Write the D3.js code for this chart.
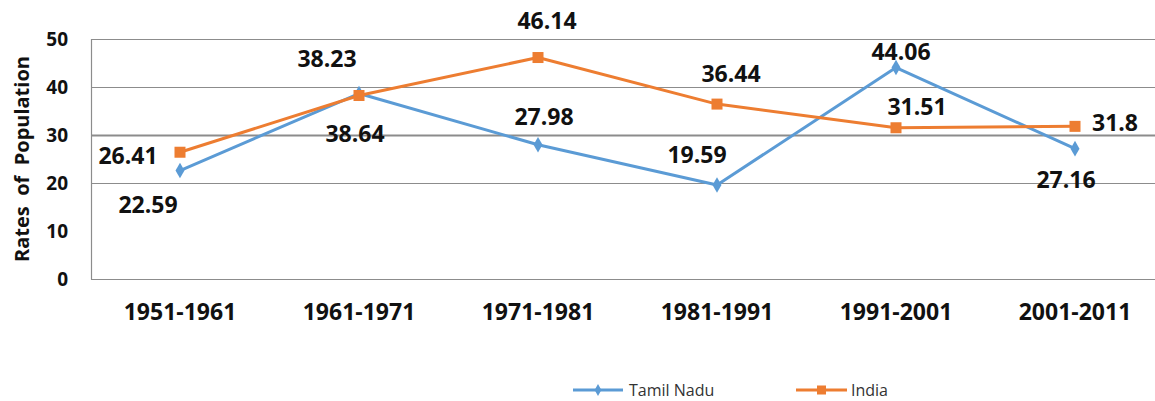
<!DOCTYPE html>
<html>
<head>
<meta charset="utf-8">
<script src="https://cdn.jsdelivr.net/npm/d3@7"></script>
<style>
  html, body { margin: 0; padding: 0; background: #fff; }
  svg { display: block; }
  text { font-family: "Open Sans", "Liberation Sans", sans-serif; }
</style>
</head>
<body>
<svg id="chart" width="1155" height="401"></svg>
<script>
const categories = ["1951-1961", "1961-1971", "1971-1981", "1981-1991", "1991-2001", "2001-2011"];
const tamilNadu = [22.59, 38.64, 27.98, 19.59, 44.06, 27.16];
const india = [26.41, 38.23, 46.14, 36.44, 31.51, 31.8];
const yTicks = [0, 10, 20, 30, 40, 50];
const gridTicks = [20, 30, 40, 50];
const seriesNames = ["Tamil Nadu", "India"];

// label offsets relative to point (dx, dy) - layout only
const tnLabelOffsets = [[-32, 34], [-4, 40], [6, -28], [-20, -30], [5, -16], [-9, 31]];
const inLabelOffsets = [[-52, 3], [-32, -37], [9, -37], [14, -30], [21, -21], [40, -4]];

const svg = d3.select("#chart");
const blue = "#5B9BD5", orange = "#ED7D31";

const x = d3.scaleBand().domain(categories).range([90.5, 1164.5]).padding(0);
const y = d3.scaleLinear().domain([0, 50]).range([279, 39]);
const cx = d => x(d) + x.bandwidth() / 2;

// gridlines
svg.append("g").selectAll("line").data(gridTicks).join("line")
  .attr("x1", 91).attr("x2", 1155)
  .attr("y1", d => Math.round(y(d)) + 0.5).attr("y2", d => Math.round(y(d)) + 0.5)
  .attr("stroke", "#8c8c8c").attr("stroke-width", d => d === 30 ? 2 : 1.2);

// axes lines
svg.append("line").attr("x1", 91.5).attr("x2", 91.5).attr("y1", y(50)).attr("y2", y(0) + 0.5)
  .attr("stroke", "#8c8c8c").attr("stroke-width", 1.2);
svg.append("line").attr("x1", 91).attr("x2", 1155).attr("y1", y(0) + 0.5).attr("y2", y(0) + 0.5)
  .attr("stroke", "#8c8c8c").attr("stroke-width", 1.2);

// y tick labels
svg.append("g").selectAll("text").data(yTicks).join("text")
  .attr("x", 68).attr("y", d => y(d)).attr("dy", "0.36em")
  .attr("text-anchor", "end").attr("font-size", 19).attr("font-weight", 700)
  .attr("fill", "#111").text(d => d);

// y axis title
svg.append("text")
  .attr("transform", "translate(29,159) rotate(-90)")
  .attr("text-anchor", "middle").attr("font-size", 20).attr("font-weight", 700)
  .attr("fill", "#111").attr("xml:space", "preserve").style("white-space", "pre")
  .text("Rates  of  Population");

// x labels
svg.append("g").selectAll("text").data(categories).join("text")
  .attr("x", d => cx(d)).attr("y", 312).attr("dy", "0.36em")
  .attr("text-anchor", "middle").attr("font-size", 23).attr("font-weight", 700)
  .attr("fill", "#111").text(d => d);

const line = d3.line().x(d => cx(d.c)).y(d => y(d.v));
const tnData = categories.map((c, i) => ({ c, v: tamilNadu[i] }));
const inData = categories.map((c, i) => ({ c, v: india[i] }));

// Tamil Nadu
svg.append("path").datum(tnData).attr("d", line).attr("fill", "none")
  .attr("stroke", blue).attr("stroke-width", 3).attr("stroke-linejoin", "round");
svg.append("g").selectAll("path").data(tnData).join("path")
  .attr("d", d3.symbol(d3.symbolDiamond, 70))
  .attr("transform", d => `translate(${cx(d.c)},${y(d.v)})`)
  .attr("fill", blue);

// India
svg.append("path").datum(inData).attr("d", line).attr("fill", "none")
  .attr("stroke", orange).attr("stroke-width", 3).attr("stroke-linejoin", "round");
svg.append("g").selectAll("rect").data(inData).join("rect")
  .attr("x", d => cx(d.c) - 5.5).attr("y", d => y(d.v) - 5.5)
  .attr("width", 11).attr("height", 11).attr("fill", orange);

// data labels
const lbl = (data, offs) => svg.append("g").selectAll("text").data(data).join("text")
  .attr("x", (d, i) => cx(d.c) + offs[i][0])
  .attr("y", (d, i) => y(d.v) + offs[i][1]).attr("dy", "0.36em")
  .attr("text-anchor", "middle").attr("font-size", 23).attr("font-weight", 700)
  .attr("fill", "#111").text(d => d.v);
lbl(tnData, tnLabelOffsets);
lbl(inData, inLabelOffsets);

// legend
const legend = [
  { name: seriesNames[0], color: blue, x1: 573, x2: 623, type: "diamond", tx: 629 },
  { name: seriesNames[1], color: orange, x1: 796, x2: 847, type: "square", tx: 851 }
];
const ly = 390;
legend.forEach(l => {
  svg.append("line").attr("x1", l.x1).attr("x2", l.x2).attr("y1", ly).attr("y2", ly)
    .attr("stroke", l.color).attr("stroke-width", 3);
  const mx = (l.x1 + l.x2) / 2;
  if (l.type === "diamond") {
    svg.append("path").attr("d", d3.symbol(d3.symbolDiamond, 40))
      .attr("transform", `translate(${mx},${ly})`).attr("fill", l.color);
  } else {
    svg.append("rect").attr("x", mx - 4.5).attr("y", ly - 4.5).attr("width", 9).attr("height", 9)
      .attr("fill", l.color);
  }
  svg.append("text").attr("x", l.tx).attr("y", ly).attr("dy", "0.36em")
    .attr("font-size", 16).attr("fill", "#333").text(l.name);
});
</script>
</body>
</html>
